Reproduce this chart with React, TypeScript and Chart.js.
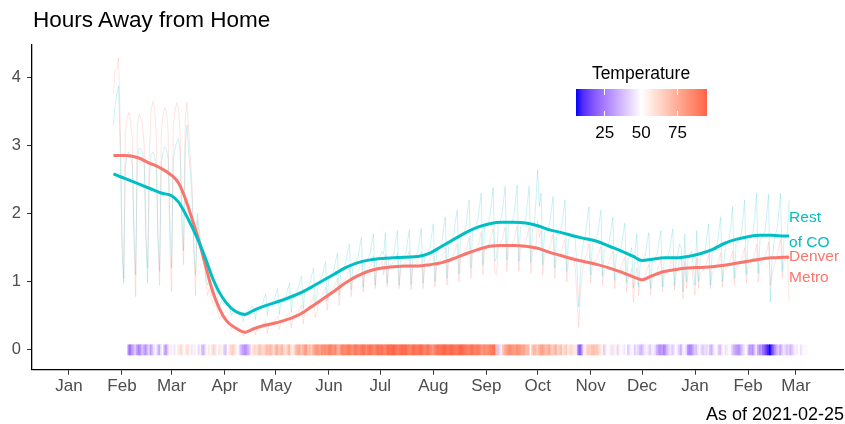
import React, { useEffect, useRef } from "react";
import { Chart, registerables } from "chart.js";
Chart.register(...registerables);

const FONT = '"Liberation Sans", Arial, Helvetica, sans-serif';

// x positions are days since 2020-01-01
const monthTickDays = [0, 31, 60, 91, 121, 152, 182, 213, 244, 274, 305, 335, 366, 397, 425];
const monthLabels = ["Jan", "Feb", "Mar", "Apr", "May", "Jun", "Jul", "Aug", "Sep", "Oct", "Nov", "Dec", "Jan", "Feb", "Mar"];
const yTicks = [0, 1, 2, 3, 4];

// daily raw values, first day = 2020-01-27 (day 26)
const rawStartDay = 26;
const rawDenver = [
  3.75, 4.1, 4.12, 4.28, 3.3, 1.7, 1.05,
  3.2, 3.4, 3.48, 3.35, 3.1, 1.6, 0.78,
  3.3, 3.45, 3.4, 3.3, 3.0, 1.7, 1.2,
  2.9, 3.5, 3.64, 3.55, 3.2, 1.6, 0.95,
  3.2, 3.45, 3.55, 3.5, 3.2, 1.5, 0.86,
  3.3, 3.5, 3.62, 3.55, 3.2, 1.8, 1.25,
  3.4, 3.62, 3.2, 2.8, 2.4, 1.5, 0.8,
  1.9, 1.7, 1.5, 1.4, 1.3, 1.0, 0.8,
  0.9, 0.8, 0.7, 0.65, 0.65, 0.55, 0.45,
  0.5, 0.45, 0.45, 0.42, 0.44, 0.38, 0.3,
  0.35, 0.33, 0.32, 0.32, 0.3, 0.26, 0.2,
  0.26, 0.27, 0.28, 0.27, 0.3, 0.3, 0.22,
  0.34, 0.35, 0.36, 0.36, 0.4, 0.42, 0.25,
  0.38, 0.38, 0.4, 0.42, 0.46, 0.5, 0.3,
  0.42, 0.44, 0.45, 0.48, 0.52, 0.55, 0.32,
  0.5, 0.5, 0.52, 0.55, 0.6, 0.66, 0.38,
  0.58, 0.6, 0.62, 0.66, 0.72, 0.8, 0.48,
  0.55, 0.74, 0.76, 0.8, 0.86, 0.92, 0.58,
  0.84, 0.86, 0.88, 0.92, 0.98, 1.05, 0.65,
  0.98, 1.0, 1.02, 1.06, 1.12, 1.2, 0.78,
  1.08, 1.1, 1.12, 1.16, 1.22, 1.32, 0.85,
  1.15, 1.17, 1.2, 1.22, 1.3, 1.38, 0.9,
  1.2, 1.22, 1.25, 1.3, 1.1, 1.4, 0.92,
  1.22, 1.24, 1.26, 1.3, 1.36, 1.42, 0.9,
  1.2, 1.24, 1.26, 1.3, 1.38, 1.45, 0.88,
  1.22, 1.24, 1.26, 1.32, 1.38, 1.44, 0.9,
  1.22, 1.25, 1.28, 1.32, 1.4, 1.46, 0.92,
  1.25, 1.28, 1.3, 1.35, 1.42, 1.5, 0.95,
  1.3, 1.32, 1.35, 1.4, 1.48, 1.56, 1.0,
  1.36, 1.38, 1.42, 1.46, 1.55, 1.65, 1.05,
  1.42, 1.44, 1.48, 1.52, 1.62, 1.72, 1.1,
  1.48, 1.5, 1.52, 1.58, 1.68, 1.78, 1.12,
  1.1, 1.52, 1.55, 1.6, 1.7, 1.8, 1.15,
  1.5, 1.52, 1.55, 1.6, 1.7, 1.82, 1.15,
  1.48, 1.5, 1.54, 1.58, 1.68, 1.8, 1.12,
  1.45, 1.48, 1.52, 1.9, 1.65, 1.75, 1.1,
  1.4, 1.42, 1.46, 1.5, 1.6, 1.7, 1.05,
  1.35, 1.38, 1.4, 1.45, 1.55, 1.62, 1.0,
  1.3, 1.32, 1.36, 1.38, 1.2, 0.75, 0.33,
  0.85, 1.1, 1.3, 1.35, 1.45, 1.55, 0.98,
  1.25, 1.28, 1.32, 1.36, 1.45, 1.52, 0.95,
  1.2, 1.22, 1.25, 1.3, 1.38, 1.45, 0.9,
  1.12, 1.15, 1.18, 1.22, 1.3, 1.36, 0.85,
  1.08, 1.1, 1.2, 0.7, 1.1, 1.2, 0.8,
  1.0, 1.02, 1.05, 1.1, 1.18, 1.25, 0.8,
  1.05, 1.08, 1.12, 1.16, 1.25, 1.32, 0.85,
  1.1, 1.12, 1.16, 1.2, 1.3, 1.38, 0.88,
  1.15, 1.2, 1.3, 1.35, 0.75, 1.3, 0.9,
  1.15, 1.18, 1.22, 1.0, 0.8, 1.35, 0.9,
  1.12, 1.15, 1.18, 1.22, 1.3, 1.4, 0.9,
  1.14, 1.16, 1.2, 1.25, 1.32, 1.42, 0.92,
  1.16, 1.18, 1.22, 1.28, 1.35, 1.45, 0.95,
  1.2, 1.22, 1.26, 1.3, 1.4, 1.5, 0.98,
  1.22, 1.25, 1.3, 1.35, 1.42, 1.55, 1.0,
  1.26, 1.28, 1.32, 1.38, 1.46, 1.58, 0.95,
  1.1, 1.2, 1.3, 1.4, 1.5, 1.62, 1.05,
  1.3, 1.35, 1.4, 0.72,
];
const rawRest = [
  3.3, 3.6, 3.75, 3.87, 2.9, 1.5, 0.98,
  2.7, 2.85, 2.9, 2.85, 2.7, 1.8, 1.1,
  2.8, 2.95, 2.95, 2.9, 2.7, 1.6, 0.98,
  2.5, 2.85, 2.9, 2.85, 2.7, 1.7, 1.15,
  2.75, 2.9, 2.98, 2.95, 2.8, 1.9, 1.2,
  2.8, 2.95, 3.05, 3.1, 2.9, 2.0, 1.45,
  3.0, 3.3, 2.9, 2.6, 2.2, 1.5, 1.1,
  2.0, 1.8, 1.6, 1.5, 1.4, 1.1, 0.95,
  1.0, 0.95, 0.9, 0.85, 0.9, 0.75, 0.62,
  0.72, 0.68, 0.66, 0.65, 0.68, 0.6, 0.5,
  0.6, 0.58, 0.56, 0.55, 0.58, 0.52, 0.42,
  0.55, 0.56, 0.58, 0.6, 0.65, 0.62, 0.45,
  0.62, 0.62, 0.64, 0.66, 0.75, 0.82, 0.5,
  0.66, 0.68, 0.7, 0.74, 0.82, 0.9, 0.52,
  0.72, 0.74, 0.76, 0.8, 0.9, 0.98, 0.55,
  0.8, 0.82, 0.84, 0.9, 1.0, 1.08, 0.6,
  0.88, 0.9, 0.93, 0.98, 1.1, 1.2, 0.66,
  0.8, 1.0, 1.02, 1.08, 1.2, 1.3, 0.72,
  1.08, 1.1, 1.12, 1.18, 1.32, 1.42, 0.8,
  1.18, 1.2, 1.22, 1.3, 1.45, 1.55, 0.88,
  1.25, 1.28, 1.3, 1.36, 1.52, 1.65, 0.92,
  1.3, 1.32, 1.35, 1.4, 1.56, 1.7, 0.95,
  1.32, 1.34, 1.38, 1.45, 1.4, 1.72, 0.98,
  1.33, 1.35, 1.38, 1.42, 1.6, 1.75, 0.95,
  1.33, 1.35, 1.38, 1.42, 1.6, 1.76, 0.96,
  1.34, 1.36, 1.4, 1.44, 1.62, 1.78, 0.98,
  1.38, 1.4, 1.44, 1.5, 1.68, 1.85, 1.0,
  1.46, 1.48, 1.52, 1.58, 1.78, 1.95, 1.05,
  1.56, 1.58, 1.62, 1.68, 1.9, 2.05, 1.12,
  1.66, 1.68, 1.72, 1.8, 2.02, 2.2, 1.2,
  1.76, 1.78, 1.82, 1.9, 2.1, 2.3, 1.25,
  1.8, 1.82, 1.86, 1.95, 2.15, 2.38, 1.3,
  1.35, 1.85, 1.88, 1.96, 2.18, 2.4, 1.32,
  1.82, 1.85, 1.88, 1.95, 2.18, 2.42, 1.3,
  1.8, 1.82, 1.86, 1.94, 2.15, 2.4, 1.28,
  1.78, 1.8, 2.2, 2.64, 2.1, 2.3, 1.25,
  1.72, 1.74, 1.78, 1.85, 2.05, 2.25, 1.2,
  1.66, 1.68, 1.72, 1.8, 2.0, 2.2, 1.15,
  1.62, 1.64, 1.68, 1.72, 1.6, 1.2, 0.63,
  1.1, 1.45, 1.62, 1.7, 1.9, 2.1, 1.1,
  1.55, 1.58, 1.62, 1.68, 1.88, 2.05, 1.08,
  1.48, 1.5, 1.54, 1.6, 1.78, 1.95, 1.02,
  1.4, 1.42, 1.46, 1.52, 1.7, 1.86, 0.98,
  1.35, 1.4, 1.5, 0.9, 1.45, 1.7, 0.92,
  1.28, 1.3, 1.34, 1.4, 1.58, 1.72, 0.9,
  1.3, 1.32, 1.36, 1.42, 1.6, 1.75, 0.92,
  1.32, 1.34, 1.38, 1.44, 1.62, 1.78, 0.94,
  1.35, 1.4, 1.55, 1.5, 0.85, 1.7, 1.0,
  1.38, 1.4, 1.45, 1.2, 0.95, 1.75, 1.0,
  1.35, 1.38, 1.42, 1.48, 1.68, 1.85, 0.95,
  1.42, 1.44, 1.48, 1.55, 1.75, 1.95, 1.0,
  1.35, 1.52, 1.56, 1.62, 1.85, 2.1, 1.05,
  1.56, 1.58, 1.62, 1.7, 1.92, 2.2, 1.1,
  1.6, 1.62, 1.66, 1.75, 1.98, 2.3, 1.12,
  1.62, 1.64, 1.68, 1.76, 2.0, 2.28, 0.7,
  1.3, 1.55, 1.7, 1.78, 2.02, 2.3, 1.15,
  1.62, 1.66, 1.7, 2.2,
];

// smoothed trend (read at these days)
const smoothDays = [26, 33, 40, 47, 54, 60, 64, 68, 72, 76, 80, 84, 88, 92, 97, 103, 108, 113, 120, 127, 134, 141, 148, 155, 162, 169, 176, 183, 190, 197, 204, 211, 218, 225, 232, 239, 246, 253, 260, 267, 274, 281, 288, 295, 302, 309, 316, 323, 330, 335, 341, 348, 355, 362, 369, 376, 383, 390, 397, 404, 411, 418, 421];
const smoothRest = [2.58, 2.51, 2.44, 2.37, 2.3, 2.26, 2.17, 2.0, 1.8, 1.58, 1.33, 1.05, 0.84, 0.69, 0.57, 0.52, 0.58, 0.63, 0.69, 0.75, 0.82, 0.91, 1.01, 1.11, 1.21, 1.28, 1.32, 1.34, 1.35, 1.36, 1.37, 1.42, 1.52, 1.62, 1.72, 1.8, 1.85, 1.87, 1.87, 1.86, 1.82, 1.76, 1.72, 1.67, 1.63, 1.59, 1.52, 1.45, 1.37, 1.31, 1.33, 1.35, 1.35, 1.37, 1.41, 1.47, 1.56, 1.62, 1.66, 1.68, 1.68, 1.67, 1.67];
const smoothDenver = [2.85, 2.85, 2.82, 2.74, 2.66, 2.56, 2.45, 2.22, 1.92, 1.6, 1.22, 0.86, 0.6, 0.43, 0.33, 0.26, 0.31, 0.35, 0.39, 0.44, 0.51, 0.62, 0.74, 0.86, 0.99, 1.09, 1.16, 1.2, 1.22, 1.23, 1.23, 1.25, 1.28, 1.34, 1.41, 1.47, 1.52, 1.53, 1.53, 1.52, 1.49, 1.43, 1.38, 1.33, 1.29, 1.25, 1.2, 1.14, 1.07, 1.03, 1.09, 1.15, 1.18, 1.2, 1.21, 1.22, 1.24, 1.27, 1.3, 1.33, 1.35, 1.36, 1.36];

// daily temperature (°F), first day = 2020-02-05 (day 35)
const tempStartDay = 35;
const temps = [
  28, 22, 30, 35, 40, 32, 25,
  30, 38, 34, 28, 36, 42, 30,
  38, 45, 48, 40, 33, 44, 50,
  35, 30, 40, 48, 55, 52, 45,
  50, 55, 58, 62, 48, 52, 60,
  58, 52, 45, 48, 55, 50, 42,
  55, 38, 35, 45, 52, 58, 50,
  60, 62, 45, 50, 58, 55, 48,
  40, 38, 50, 58, 62, 65, 60,
  55, 50, 42, 35, 32, 28, 30,
  35, 40, 55, 60, 62, 58, 65,
  68, 62, 60, 65, 70, 68, 72,
  66, 60, 70, 74, 65, 68, 72,
  62, 58, 66, 72, 60, 55, 62,
  70, 74, 76, 66, 72, 78, 80,
  68, 72, 64, 74, 78, 82, 80,
  76, 84, 82, 85, 80, 86, 88,
  84, 80, 86, 78, 72, 82, 88,
  86, 84, 88, 90, 86, 82, 88,
  90, 86, 84, 88, 92, 90, 85,
  88, 92, 90, 86, 84, 90, 92,
  90, 92, 88, 86, 90, 94, 92,
  93, 95, 92, 90, 88, 92, 94,
  92, 94, 90, 88, 86, 92, 93,
  90, 88, 92, 94, 90, 86, 88,
  92, 88, 84, 80, 86, 90, 92,
  90, 92, 94, 95, 92, 90, 93,
  94, 92, 90, 88, 92, 95, 94,
  92, 90, 88, 86, 90, 92, 88,
  86, 90, 88, 84, 80, 86, 82,
  84, 86, 88, 90, 92, 70, 38,
  42, 55, 68, 74, 78, 82, 84,
  82, 80, 78, 84, 82, 80, 76,
  78, 74, 70, 72, 50, 66, 72,
  70, 66, 72, 76, 78, 74, 70,
  72, 76, 68, 64, 70, 74, 62,
  66, 70, 58, 62, 66, 56, 60,
  62, 58, 55, 45, 22, 18, 28,
  45, 55, 62, 66, 64, 68, 70,
  66, 68, 62, 58, 52, 40, 45,
  50, 52, 46, 44, 55, 48, 42,
  55, 52, 48, 45, 50, 40, 44,
  48, 52, 40, 45, 42, 38, 35,
  42, 45, 48, 44, 40, 46, 48,
  42, 35, 30, 28, 32, 25, 30,
  38, 42, 45, 40, 44, 50, 46,
  40, 35, 45, 48, 44, 30, 25,
  28, 32, 40, 38, 45, 48, 42,
  40, 44, 42, 46, 38, 35, 44,
  48, 52, 40, 38, 46, 50, 44,
  46, 52, 48, 40, 35, 32, 30,
  28, 35, 40, 45, 50, 42, 30,
  32, 28, 38, 45, 35, 28, 30,
  22, 18, 12, 8, 5, 12, 20,
  28, 35, 40, 32, 38, 45, 42,
  38, 42, 35, 40, 44, 48, 46,
  50, 44, 48, 52, 52,
];
const legendTicks = [25, 50, 75];
const tempMid = 50;

const RED = "#F8766D";
const CYAN = "#00BFC4";

// ---------- colour helpers (Lab interpolation like ggplot) ----------
function toLin(c: number) { c /= 255; return c <= 0.04045 ? c / 12.92 : Math.pow((c + 0.055) / 1.055, 2.4); }
function fromLin(c: number) { const v = c <= 0.0031308 ? 12.92 * c : 1.055 * Math.pow(c, 1 / 2.4) - 0.055; return Math.round(Math.max(0, Math.min(1, v)) * 255); }
function rgbToLab(rgb: number[]) {
  const [r, g, b] = rgb.map(toLin);
  const X = (0.4124564 * r + 0.3575761 * g + 0.1804375 * b) / 0.95047;
  const Y = 0.2126729 * r + 0.7151522 * g + 0.072175 * b;
  const Z = (0.0193339 * r + 0.119192 * g + 0.9503041 * b) / 1.08883;
  const f = (t: number) => (t > 0.008856 ? Math.cbrt(t) : 7.787 * t + 16 / 116);
  const fx = f(X), fy = f(Y), fz = f(Z);
  return [116 * fy - 16, 500 * (fx - fy), 200 * (fy - fz)];
}
function labToRgb(lab: number[]) {
  const [L, a, bb] = lab;
  const fy = (L + 16) / 116, fx = fy + a / 500, fz = fy - bb / 200;
  const inv = (t: number) => (t * t * t > 0.008856 ? t * t * t : (t - 16 / 116) / 7.787);
  const X = inv(fx) * 0.95047, Y = inv(fy), Z = inv(fz) * 1.08883;
  const r = 3.2404542 * X - 1.5371385 * Y - 0.4985314 * Z;
  const g = -0.969266 * X + 1.8760108 * Y + 0.041556 * Z;
  const b = 0.0556434 * X - 0.2040259 * Y + 1.0572252 * Z;
  return [fromLin(r), fromLin(g), fromLin(b)];
}
const LOW = rgbToLab([0, 0, 255]);
const MID = rgbToLab([255, 255, 255]);
const HIGH = rgbToLab([255, 99, 71]);
const tMin = Math.min(...temps);
const tMax = Math.max(...temps);
const tRange = Math.max(tMax - tempMid, tempMid - tMin);
function tempColor(v: number) {
  let t = 0.5 + (v - tempMid) / (2 * tRange);
  t = Math.max(0, Math.min(1, t));
  let a: number[], b: number[], s: number;
  if (t < 0.5) { a = LOW; b = MID; s = t / 0.5; } else { a = MID; b = HIGH; s = (t - 0.5) / 0.5; }
  const lab = [0, 1, 2].map((i) => a[i] + (b[i] - a[i]) * s);
  const [r, g, bl] = labToRgb(lab);
  return `rgb(${r},${g},${bl})`;
}

const lineLabels = {
  id: "lineLabels",
  afterDatasetsDraw(chart: any) {
    const { ctx, scales } = chart;
    const last = smoothDays.length - 1;
    const px = scales.x.getPixelForValue(smoothDays[last]);
    const pr = scales.y.getPixelForValue(smoothRest[last]);
    const pd = scales.y.getPixelForValue(smoothDenver[last]);
    ctx.save();
    ctx.font = `15.5px ${FONT}`;
    ctx.textAlign = "left";
    ctx.textBaseline = "alphabetic";
    ctx.fillStyle = CYAN;
    ctx.fillText("Rest", px, pr - 14);
    ctx.fillText("of CO", px, pr + 11);
    ctx.fillStyle = RED;
    ctx.fillText("Denver", px, pd + 4);
    ctx.fillText("Metro", px, pd + 25);
    ctx.restore();
  },
};

export default function App() {
  const ref = useRef<HTMLCanvasElement>(null);
  useEffect(() => {
    const axisCommon = {
      grid: { drawOnChartArea: false, drawTicks: true, tickLength: 5, color: "#333333", lineWidth: 1, offset: false },
      border: { display: true, color: "#000000", width: 1.3 },
    };
    const chart = new Chart(ref.current as HTMLCanvasElement, {
      type: "line",
      data: {
        datasets: [
          {
            type: "line",
            data: smoothDays.map((d, i) => ({ x: d, y: smoothRest[i] })),
            borderColor: CYAN,
            borderWidth: 3,
            pointRadius: 0,
            cubicInterpolationMode: "monotone",
            order: 0,
          },
          {
            type: "line",
            data: smoothDays.map((d, i) => ({ x: d, y: smoothDenver[i] })),
            borderColor: RED,
            borderWidth: 3,
            pointRadius: 0,
            cubicInterpolationMode: "monotone",
            order: 1,
          },
          {
            type: "line",
            data: rawRest.map((v, i) => ({ x: rawStartDay + i, y: v })),
            borderColor: "rgba(0,191,196,0.2)",
            borderWidth: 1,
            pointRadius: 0,
            tension: 0,
            order: 2,
          },
          {
            type: "line",
            data: rawDenver.map((v, i) => ({ x: rawStartDay + i, y: v })),
            borderColor: "rgba(248,118,109,0.2)",
            borderWidth: 1,
            pointRadius: 0,
            tension: 0,
            order: 3,
          },
          {
            type: "bar",
            data: temps.map((t, i) => ({ x: tempStartDay + i, y: [-0.075, 0.075] })),
            backgroundColor: temps.map(tempColor),
            borderWidth: 0,
            barThickness: 2,
            order: 4,
          },
        ] as any,
      },
      options: {
        responsive: false,
        animation: false,
        events: [],
        layout: { padding: { top: 45, right: 2, bottom: 24.3, left: 0 } },
        plugins: { legend: { display: false }, tooltip: { enabled: false }, title: { display: false } },
        scales: {
          x: {
            type: "linear",
            min: -21.6,
            max: 452.5,
            offset: false,
            afterBuildTicks: (s: any) => { s.ticks = monthTickDays.map((v) => ({ value: v })); },
            afterFit: (s: any) => { s.height = 30; },
            ticks: {
              autoSkip: false,
              maxRotation: 0,
              minRotation: 0,
              padding: 1,
              color: "#4D4D4D",
              font: { family: FONT, size: 17 },
              callback: (v: any) => monthLabels[monthTickDays.indexOf(Number(v))],
            },
            ...axisCommon,
          },
          y: {
            type: "linear",
            min: -0.29,
            max: 4.47,
            afterBuildTicks: (s: any) => { s.ticks = yTicks.map((v) => ({ value: v })); },
            afterFit: (s: any) => { s.width = 32; },
            ticks: {
              padding: 6,
              color: "#4D4D4D",
              font: { family: FONT, size: 16.5 },
              callback: (v: any) => String(v),
            },
            ...axisCommon,
          },
        },
      } as any,
      plugins: [lineLabels],
    });
    return () => chart.destroy();
  }, []);

  const barLeft = 575.7, barTop = 89.3, barW = 131, barH = 26.7;
  const stops = Array.from({ length: 21 }, (_, i) => {
    const v = tMin + ((tMax - tMin) * i) / 20;
    return `${tempColor(v)} ${i * 5}%`;
  }).join(", ");
  const tickX = (v: number) => barLeft + ((v - tMin) / (tMax - tMin)) * barW;

  return (
    <div style={{ position: "fixed", left: 0, top: 0, width: 845, height: 424, background: "#fff", fontFamily: FONT, overflow: "hidden" }}>
      <canvas ref={ref} width={845} height={424} style={{ position: "absolute", left: 0, top: 0, width: 845, height: 424 }} />
      <div style={{ position: "absolute", left: 33, top: 9.3, fontSize: 22.5, lineHeight: "22.5px", color: "#000", whiteSpace: "nowrap" }}>
        Hours Away from Home
      </div>
      <div style={{ position: "absolute", left: 541, width: 200, top: 64.7, fontSize: 17.5, lineHeight: "17.5px", textAlign: "center", color: "#000" }}>
        Temperature
      </div>
      <div style={{ position: "absolute", left: barLeft, top: barTop, width: barW, height: barH, background: `linear-gradient(to right, ${stops})` }} />
      {legendTicks.map((v) => (
        <React.Fragment key={v}>
          <div style={{ position: "absolute", left: tickX(v) - 0.5, top: barTop, width: 1, height: barH / 5, background: "#fff" }} />
          <div style={{ position: "absolute", left: tickX(v) - 0.5, top: barTop + barH - barH / 5, width: 1, height: barH / 5, background: "#fff" }} />
          <div style={{ position: "absolute", left: tickX(v) - 20, width: 40, top: 124, fontSize: 17, lineHeight: "17px", textAlign: "center", color: "#000" }}>
            {v}
          </div>
        </React.Fragment>
      ))}
      <div style={{ position: "absolute", right: 1, top: 405.3, fontSize: 18, lineHeight: "18px", color: "#000", whiteSpace: "nowrap" }}>
        As of 2021-02-25
      </div>
    </div>
  );
}
